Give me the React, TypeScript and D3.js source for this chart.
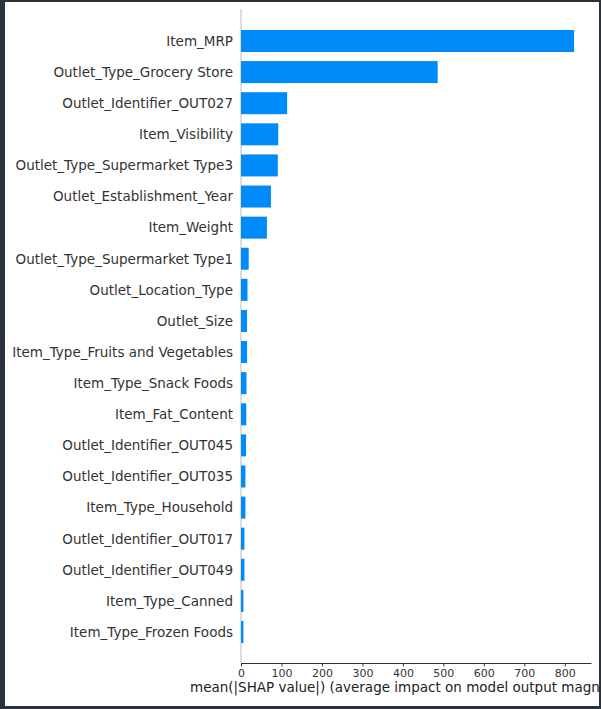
import React, { useEffect, useRef } from 'react';
import * as d3 from 'd3';

const features = [
  'Item_MRP',
  'Outlet_Type_Grocery Store',
  'Outlet_Identifier_OUT027',
  'Item_Visibility',
  'Outlet_Type_Supermarket Type3',
  'Outlet_Establishment_Year',
  'Item_Weight',
  'Outlet_Type_Supermarket Type1',
  'Outlet_Location_Type',
  'Outlet_Size',
  'Item_Type_Fruits and Vegetables',
  'Item_Type_Snack Foods',
  'Item_Fat_Content',
  'Outlet_Identifier_OUT045',
  'Outlet_Identifier_OUT035',
  'Item_Type_Household',
  'Outlet_Identifier_OUT017',
  'Outlet_Identifier_OUT049',
  'Item_Type_Canned',
  'Item_Type_Frozen Foods',
];

const meanShap = [823, 486, 114, 92, 91, 74, 64, 19, 16, 15, 15, 13.5, 13, 12.5, 11, 11, 8.5, 8.5, 6, 6];

const xTicks = [0, 100, 200, 300, 400, 500, 600, 700, 800];

const xLabel = 'mean(|SHAP value|) (average impact on model output magnitude)';

function ShapBar() {
  const svgRef = useRef<SVGSVGElement>(null);

  useEffect(() => {
    const svg = d3.select(svgRef.current);
    svg.selectAll('*').remove();

    const W = 601, H = 709;
    const font = '"DejaVu Sans", sans-serif';

    svg.attr('width', W).attr('height', H);

    // dark frame and white figure area (figure is cropped on the right)
    svg.append('rect').attr('width', W).attr('height', H).attr('fill', '#2c323d');
    svg.append('clipPath').attr('id', 'fig')
      .append('rect').attr('x', 5).attr('y', 2).attr('width', 594).attr('height', 704);
    const fig = svg.append('g').attr('clip-path', 'url(#fig)');
    fig.append('rect').attr('x', 5).attr('y', 2).attr('width', 594).attr('height', 704).attr('fill', '#fff');

    const x = d3.scaleLinear().domain([0, 866]).range([241, 591.5]);
    const y = d3.scalePoint<string>().domain(features).range([41, 632]);
    const top = 9, bottom = 663;
    const barH = 22;

    // zero line
    fig.append('line')
      .attr('x1', x(0)).attr('x2', x(0))
      .attr('y1', top).attr('y2', bottom)
      .attr('stroke', '#bbbbbb').attr('stroke-width', 1);

    fig.selectAll('.bar')
      .data(features)
      .enter()
      .append('rect')
      .attr('class', 'bar')
      .attr('x', x(0))
      .attr('y', d => (y(d) as number) - barH / 2)
      .attr('width', (d, i) => x(meanShap[i]) - x(0))
      .attr('height', barH)
      .attr('fill', '#008bfb');

    fig.selectAll('.label')
      .data(features)
      .enter()
      .append('text')
      .attr('class', 'label')
      .attr('x', x(0) - 8)
      .attr('y', d => y(d) as number)
      .attr('dy', '0.36em')
      .attr('text-anchor', 'end')
      .style('font-family', font)
      .style('font-size', '13.5px')
      .attr('fill', '#333333')
      .text(d => d);

    // x axis
    const axis = fig.append('g')
      .attr('transform', `translate(0,${bottom})`)
      .call(d3.axisBottom(x).tickValues(xTicks).tickSize(3.5).tickPadding(2.5).tickFormat(d3.format('d')));
    axis.select('.domain').attr('stroke', '#333333').attr('d', `M${x(0)},0.5H${x.range()[1]}`);
    axis.selectAll('.tick line').attr('stroke', '#333333');
    axis.selectAll('.tick text')
      .style('font-family', font)
      .style('font-size', '11px')
      .attr('fill', '#333333');

    fig.append('text')
      .attr('x', 190)
      .attr('y', 692)
      .attr('text-anchor', 'start')
      .style('font-family', font)
      .style('font-size', '13.5px')
      .attr('fill', '#222222')
      .text(xLabel);
  }, []);

  return <svg ref={svgRef}></svg>;
}

export default function App() {
  return (
    <div style={{ position: 'fixed', left: 0, top: 0 }}>
      <ShapBar />
    </div>
  );
}
